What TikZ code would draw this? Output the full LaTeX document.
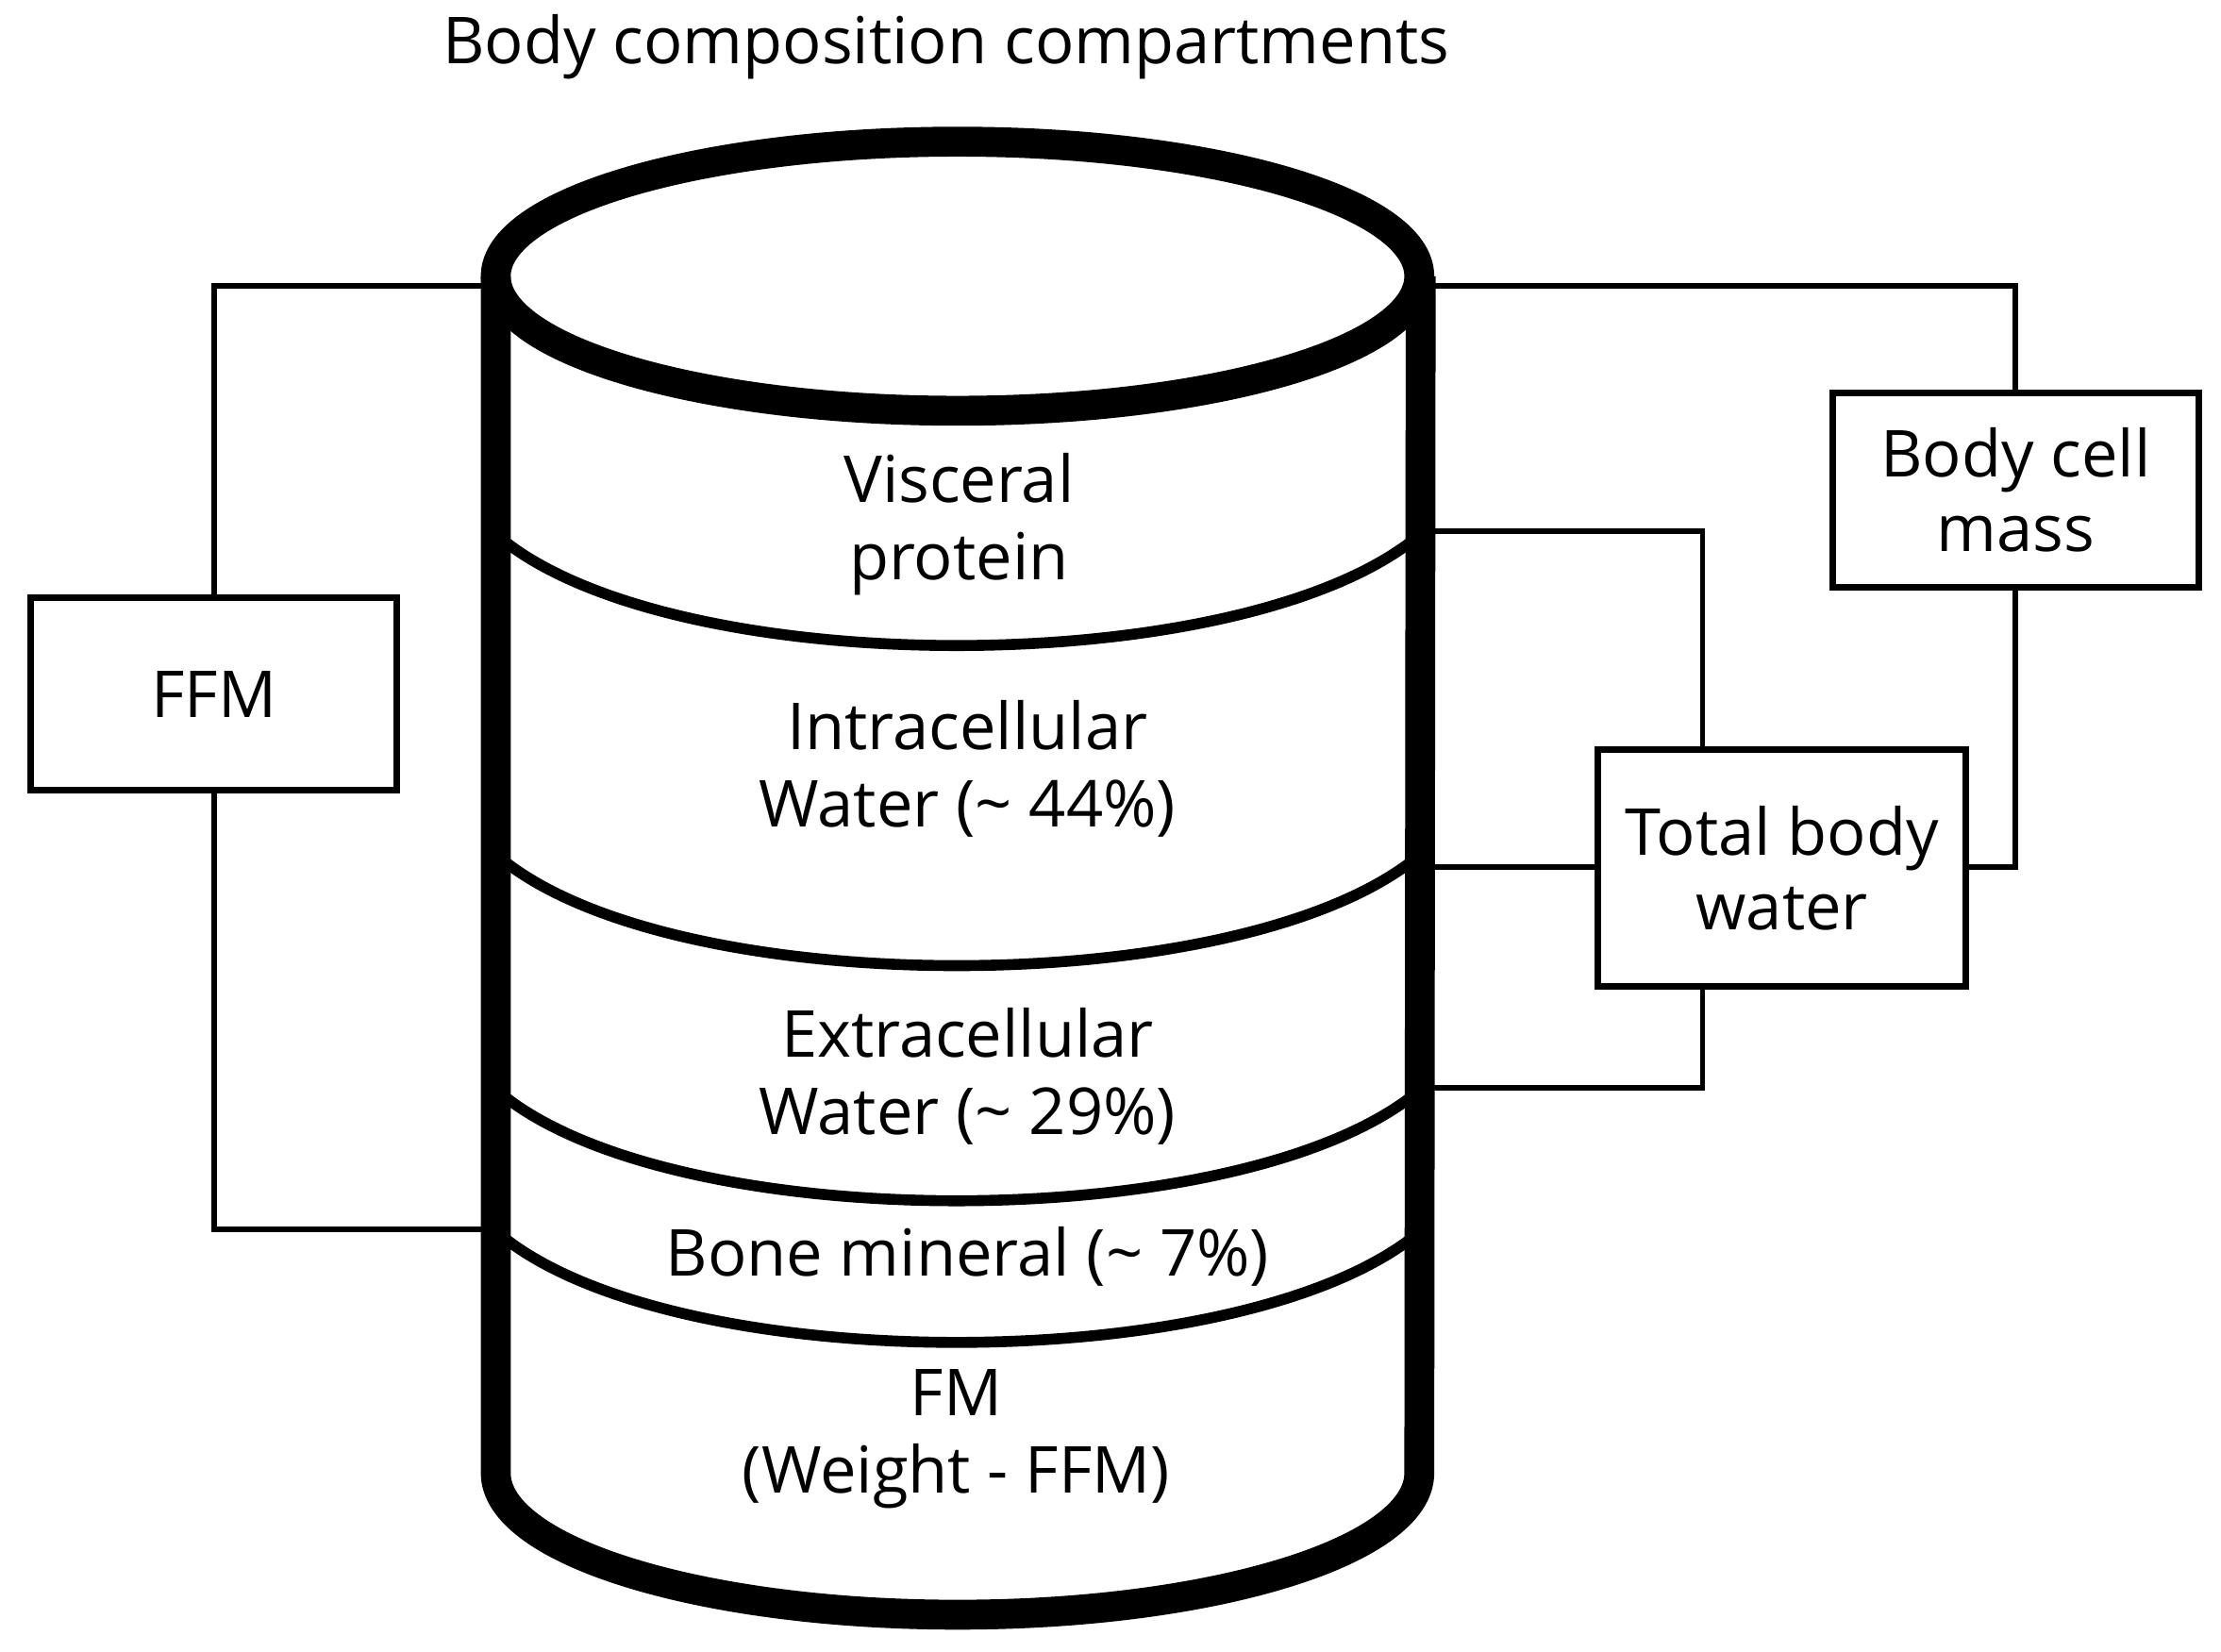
\documentclass[tikz,border=0pt]{standalone}
\usepackage{fontspec}
\setmainfont{Open Sans}
\usetikzlibrary{positioning}
\begin{document}
\begin{tikzpicture}
[x=0.01cm,y=-0.01cm,
 box/.style = {draw, line width=1.3pt, minimum width=2.58cm, align=center, font=\fontsize{13}{15}\selectfont},
 band/.style = {line width=2.2pt},
 wall/.style = {line width=6pt},
 link/.style = {line width=1.1pt},
 txt/.style = {align=center, font=\fontsize{13}{15.5}\selectfont}]
\useasboundingbox (0,0) rectangle (1568,1166);
\node (title) at (668,33) {\fontsize{13}{15}\selectfont Body composition compartments};
% cylinder
\draw[wall] (676,195) ellipse [x radius=326, y radius=95];
\draw[wall] (350,195) -- (350,1040) arc [start angle=180, end angle=0, x radius=326, y radius=100] -- (1003,195);
\foreach \y in {377,603,769,869}
  \draw[band] (350,\y) .. controls (470,\y+105) and (880,\y+105) .. (1003,\y);
% labels
\node[txt] (vp)  at (677,370) {Visceral\\protein};
\node[txt] (icw) at (683,543) {Intracellular\\Water (\textasciitilde{} 44\%)};
\node[txt] (ecw) at (683,760) {Extracellular\\Water (\textasciitilde{} 29\%)};
\node[txt] (bm)  at (683,887) {Bone mineral (\textasciitilde{} 7\%)};
\node[txt] (fm)  at (675,1016) {FM\\(Weight - FFM)};
% boxes
\node[box, minimum height=1.36cm] (ffm) at (151,490) {FFM};
\node[box, minimum height=1.37cm] (bcm) at (1423,346) {Body cell\\mass};
\node[box, minimum height=1.67cm, minimum width=2.6cm] (tbw) at (1258,613) {Total body\\water};
% connector ends on the cylinder
\coordinate (lt) at (350,202);
\coordinate (lb) at (350,868);
\coordinate (rt) at (1003,202);
\coordinate (r1) at (1003,375);
\coordinate (r2) at (1003,612);
\coordinate (r3) at (1003,768);
\draw[link] (lt) -| (ffm.north);
\draw[link] (ffm.south) |- (lb);
\draw[link] (rt) -| (bcm.north);
\draw[link] (bcm.south) |- (tbw.east |- r2);
\draw[link] (r1) -| (tbw.north -| 1202,0);
\draw[link] (r2) -- (tbw.west |- r2);
\draw[link] (tbw.south -| 1202,0) |- (r3);
\end{tikzpicture}
\end{document}
